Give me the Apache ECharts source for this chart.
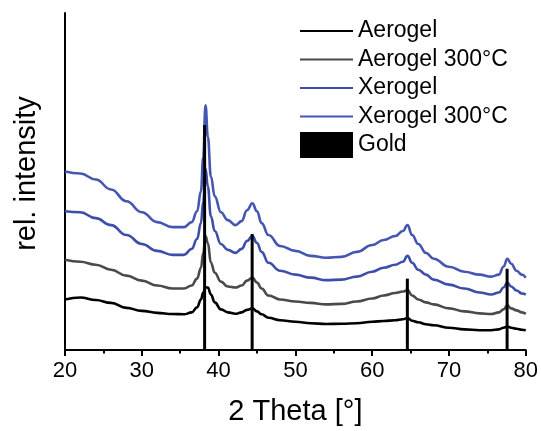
<!DOCTYPE html>
<html>
<head>
<meta charset="utf-8">
<script src="https://cdn.jsdelivr.net/npm/echarts@6/dist/echarts.min.js"></script>
<style>
  html, body { margin: 0; padding: 0; background: #fff; }
  #chart { width: 541px; height: 431px; }
</style>
</head>
<body>
<div id="chart"></div>
<script>
// 2θ positions (degrees) shared by all diffractograms
const theta = [20, 22, 24, 26, 28, 30, 32, 34, 35.5, 36.5, 37.2, 37.7, 38.0, 38.3, 38.6, 39.0, 39.5, 40.3, 41.2, 42.2,
  43.0, 43.7, 44.4, 45.0, 45.6, 46.5, 48, 50, 52, 54, 56, 58, 60, 61.5, 63, 64, 64.6, 65.2, 66, 67,
  68, 70, 72, 74, 75.5, 76.5, 77.1, 77.6, 78.1, 78.8, 79.5, 80];

// Relative intensities (offset for display)
const aerogel = [51, 53, 50.5, 47.5, 42.5, 39.5, 37.5, 36.3, 36, 38, 43, 51, 58, 63, 63, 56, 48, 41, 38, 36.5,
  38, 40.5, 42, 39, 36, 32.5, 30, 28.5, 27, 26.3, 26.5, 27, 28.5, 29.3, 30, 31, 32.3, 29.5, 28, 26,
  25, 22.5, 20.8, 20, 20, 20.8, 22.5, 23.7, 22.5, 21.5, 20.5, 20];

const aerogel300 = [91, 89, 86, 81, 75, 70, 65, 62, 62, 65, 72, 83, 98, 115, 108, 88, 78, 69, 64, 63,
  65, 70, 73, 68, 62, 55, 51, 49, 47.5, 46, 46.5, 49, 52, 55, 57.5, 59, 60.5, 55, 51, 48,
  46, 42, 39, 37, 36.3, 38, 41, 45, 42, 40, 38, 36.5];

const xerogel = [140, 139, 133, 126, 116, 107, 100, 96, 96, 102, 112, 128, 150, 183, 165, 135, 120, 107, 101, 98,
  102, 110, 115, 108, 99, 88, 80, 76, 73, 70.5, 71, 74, 79, 83, 86, 89, 95, 88, 81, 76,
  71, 66, 62, 58, 56, 58, 63, 68, 64, 60, 57, 56];

const xerogel300 = [180, 178, 172, 162, 150, 139, 129, 124, 124, 129, 140, 160, 195, 247, 215, 175, 155, 139, 131, 126,
  130, 141, 148, 140, 128, 116, 105, 100, 95, 93, 94, 99, 106, 111, 115, 120, 126, 116, 107, 98,
  92, 84, 79, 76, 74, 76, 84, 92, 87, 80, 76, 73];

// Gold reference reflections (2θ, intensity)
const goldTheta = [38.18, 44.37, 64.58, 77.57];
const goldIntensity = [227, 117, 72, 82];

const seriesNames = ['Aerogel', 'Aerogel 300°C', 'Xerogel', 'Xerogel 300°C', 'Gold'];
const xTicks = [20, 30, 40, 50, 60, 70, 80];

const pair = (xs, ys) => xs.map((x, i) => [x, ys[i]]);

// thin horizontal stroke centred in a 53×26 legend box
const lineIcon = 'path://M0,0M53,26M0,12H53V14H0Z';

const lineSeries = (name, values, color) => ({
  name: name,
  type: 'line',
  data: pair(theta, values),
  symbol: 'none',
  smooth: 0.45,
  smoothMonotone: 'x',
  lineStyle: { color: color, width: 2.6 },
  itemStyle: { color: color },
  z: 2
});

const chart = echarts.init(document.getElementById('chart'), null, { renderer: 'canvas' });

chart.setOption({
  animation: false,
  backgroundColor: '#ffffff',
  textStyle: { fontFamily: 'Liberation Sans, Arial, sans-serif' },
  grid: { left: 65, right: 14, top: 13, bottom: 78, containLabel: false },
  legend: {
    orient: 'vertical',
    left: 300,
    top: 18,
    padding: 0,
    itemWidth: 53,
    itemHeight: 26,
    itemGap: 2.5,
    itemStyle: { borderWidth: 0 },
    data: seriesNames.map((n, i) => ({ name: n, icon: i < 4 ? lineIcon : 'rect' })),
    textStyle: { fontSize: 23, color: '#000', fontFamily: 'Liberation Sans, Arial, sans-serif' }
  },
  xAxis: {
    type: 'value',
    min: xTicks[0],
    max: xTicks[xTicks.length - 1],
    interval: 10,
    name: '2 Theta [°]',
    nameLocation: 'middle',
    nameGap: 47,
    nameTextStyle: { fontSize: 29, color: '#000' },
    axisLine: { lineStyle: { color: '#000', width: 2 } },
    axisTick: { show: true, inside: false, length: 6, lineStyle: { color: '#000', width: 2 } },
    minorTick: { show: true, splitNumber: 2, length: 3.5, lineStyle: { color: '#000', width: 2 } },
    axisLabel: { fontSize: 22, color: '#000', margin: 10 },
    splitLine: { show: false }
  },
  yAxis: {
    type: 'value',
    min: 0,
    max: 340,
    name: 'rel. intensity',
    nameLocation: 'middle',
    nameGap: 24,
    nameTextStyle: { fontSize: 29, color: '#000', padding: [0, 0, 0, 16] },
    axisLine: { show: true, lineStyle: { color: '#000', width: 2 } },
    axisTick: { show: false },
    axisLabel: { show: false },
    splitLine: { show: false }
  },
  series: [
    lineSeries('Aerogel', aerogel, '#000000'),
    lineSeries('Aerogel 300°C', aerogel300, '#4a4a4a'),
    lineSeries('Xerogel', xerogel, '#3d4ea8'),
    lineSeries('Xerogel 300°C', xerogel300, '#4556b2'),
    {
      name: 'Gold',
      type: 'bar',
      data: pair(goldTheta, goldIntensity),
      barWidth: 3,
      itemStyle: { color: '#000' },
      z: 3
    }
  ]
});
</script>
</body>
</html>
